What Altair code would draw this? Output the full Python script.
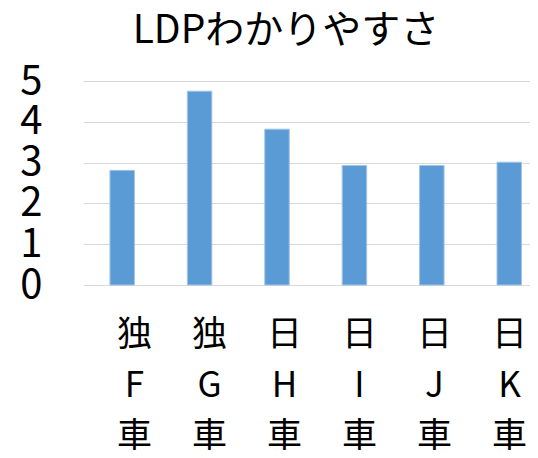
import altair as alt
import pandas as pd

cars = ["独F車", "独G車", "日H車", "日I車", "日J車", "日K車"]
scores = [2.81, 4.75, 3.82, 2.93, 2.93, 3.01]
title_text = "LDPわかりやすさ"

df = pd.DataFrame({"car": cars, "score": scores})
FONT = "Noto Sans CJK JP"

y_enc = alt.Y(
    "score:Q",
    scale=alt.Scale(domain=[0, 5], nice=False, zero=True),
    axis=alt.Axis(
        values=[0, 1, 2, 3, 4, 5],
        title=None,
        domain=False,
        ticks=False,
        grid=True,
        gridColor="#d9d9d9",
        gridWidth=1,
        labelFont=FONT,
        labelFontSize=40,
        labelColor="#000000",
        labelPadding=41,
        labelBaseline="middle",
    ),
)

bars = alt.Chart(df).mark_bar(color="#5b9bd5", stroke="#a3c4e6", strokeWidth=1).encode(
    x=alt.X(
        "car:N",
        sort=cars,
        scale=alt.Scale(type="band", paddingInner=0.6835, paddingOuter=0.229, align=0.76),
        axis=None,
    ),
    y=y_enc,
)

labels = alt.Chart(df).mark_point(opacity=0).encode(
    x=alt.X(
        "car:N",
        sort=cars,
        scale=alt.Scale(type="point", padding=0.48, align=0.708),
        axis=alt.Axis(
            orient="bottom",
            title=None,
            domain=False,
            ticks=False,
            grid=False,
            labelAngle=0,
            labelFont=FONT,
            labelFontSize=35,
            labelColor="#000000",
            labelLineHeight=51,
            labelPadding=32,
            labelOverlap=False,
            labelExpr="[substring(datum.label,0,1), substring(datum.label,1,2), substring(datum.label,2,3)]",
        ),
    ),
    y=alt.Y("score:Q"),
)

chart = (
    alt.layer(bars, labels)
    .resolve_scale(x="independent")
    .properties(
        width=447,
        height=204,
        autosize=alt.AutoSizeParams(type="none"),
        padding={"left": 75, "top": 73, "right": 0, "bottom": 165},
        title=alt.TitleParams(
            text=title_text,
            font=FONT,
            fontSize=39,
            fontWeight="normal",
            color="#000000",
            anchor="middle",
            frame="group",
            dx=-20.5,
            offset=10,
        ),
    )
    .configure_view(stroke=None)
)

chart.save("out.html", embed_options={"renderer": "svg", "actions": False})
